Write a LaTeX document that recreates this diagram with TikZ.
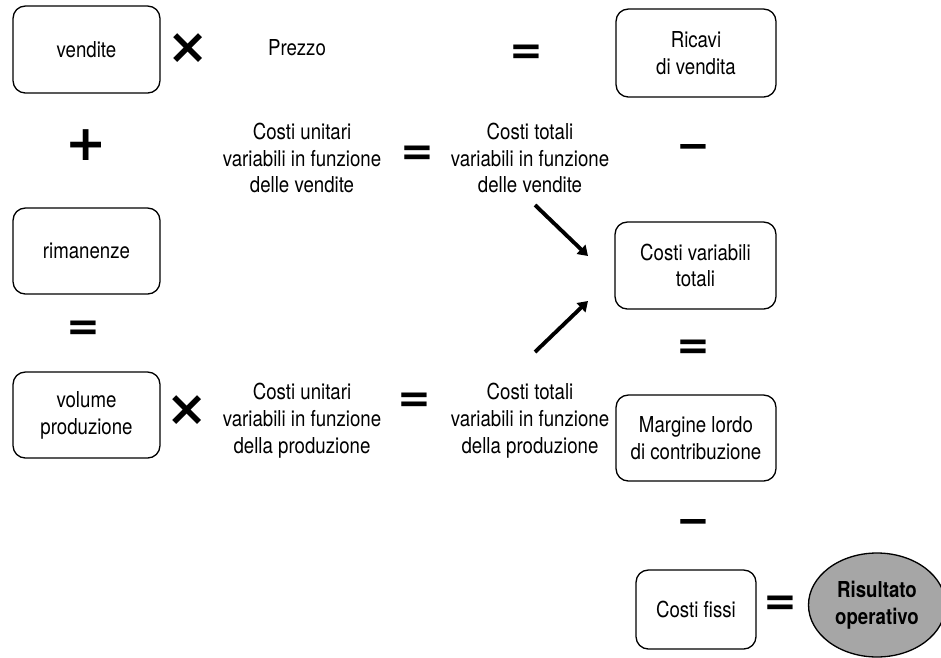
\documentclass[tikz,border=0pt]{standalone}
\usepackage{fontspec}
\setmainfont{TeX Gyre Heros}[FakeStretch=0.85]
\newfontfamily\opfont{DejaVu Sans Bold}
\usetikzlibrary{arrows.meta, shapes.geometric}

\tikzset{
  box/.style={draw, rounded corners=7pt, line width=0.75pt, align=center, inner sep=0pt},
  txt/.style={align=center, inner sep=0pt},
  op/.style={font=\opfont\fontsize{23}{23}\selectfont, inner sep=0pt},
  bigop/.style={font=\opfont\fontsize{28}{28}\selectfont, inner sep=0pt},
  fatarrow/.style={-{Triangle[width=7pt,length=5.5pt]}, line width=2.2pt},
}

\begin{document}
\begin{tikzpicture}[x=0.02cm, y=-0.02cm, font=\fontsize{12.5}{15.3}\selectfont]
        \useasboundingbox (0,0) rectangle (941,657);

        \node[box, minimum width=2.94cm, minimum height=1.74cm] (vend) at (86.5,49.5) {vendite};
        \node[box, minimum width=2.94cm, minimum height=1.72cm] (rim) at (86.5,251) {rimanenze};
        \node[box, minimum width=2.94cm, minimum height=1.72cm] (vol) at (86.5,415) {volume\\produzione};
        \node[box, minimum width=3.2cm, minimum height=1.76cm] (ric) at (696,53) {Ricavi\\di vendita};
        \node[box, minimum width=3.22cm, minimum height=1.74cm] (cvt) at (695.5,265.5) {Costi variabili\\totali};
        \node[box, minimum width=3.2cm, minimum height=1.72cm] (mlc) at (696,438) {Margine lordo\\di contribuzione};
        \node[box, minimum width=2.4cm, minimum height=1.58cm] (cf) at (696,609.5) {Costi fissi};
        \node[ellipse, draw, line width=0.75pt, fill=black!35, minimum width=2.74cm, minimum height=2.08cm,
              inner sep=0pt, align=center, font=\bfseries\fontsize{12.5}{15.3}\selectfont] (ro) at (877,605) {Risultato\\operativo};

        \node[txt] (prezzo) at (297,48) {Prezzo};
        \node[txt] (cuv) at (302,158) {Costi unitari\\variabili in funzione\\delle vendite};
        \node[txt] (ctv) at (530,158) {Costi totali\\variabili in funzione\\delle vendite};
        \node[txt] (cup) at (302,421) {Costi unitari\\variabili in funzione\\della produzione};
        \node[txt] (ctp) at (530,421) {Costi totali\\variabili in funzione\\della produzione};

        \node[bigop] (x1) at (188.5,49) {×};
        \node[op] (eq1) at (526.5,55) {=};
        \node[bigop] (pl) at (86.5,145) {+};
        \node[op] (eq2) at (417.5,156) {=};
        \node[op] (mi1) at (693,152) {−};
        \node[op] (eq3) at (83.5,331) {=};
        \node[op] (eq4) at (693,350) {=};
        \node[bigop] (x2) at (187.5,411) {×};
        \node[op] (eq5) at (414,403) {=};
        \node[op] (mi2) at (693,527) {−};
        \node[op] (eq6) at (780.5,606) {=};

        \coordinate (a1s) at (535,205);
        \coordinate (a1e) at (588,256);
        \coordinate (a2s) at (535,352);
        \coordinate (a2e) at (588,301);

        \path[fatarrow]
        (a1s) edge (a1e)
        (a2s) edge (a2e)
        ;
    \end{tikzpicture}
\end{document}
